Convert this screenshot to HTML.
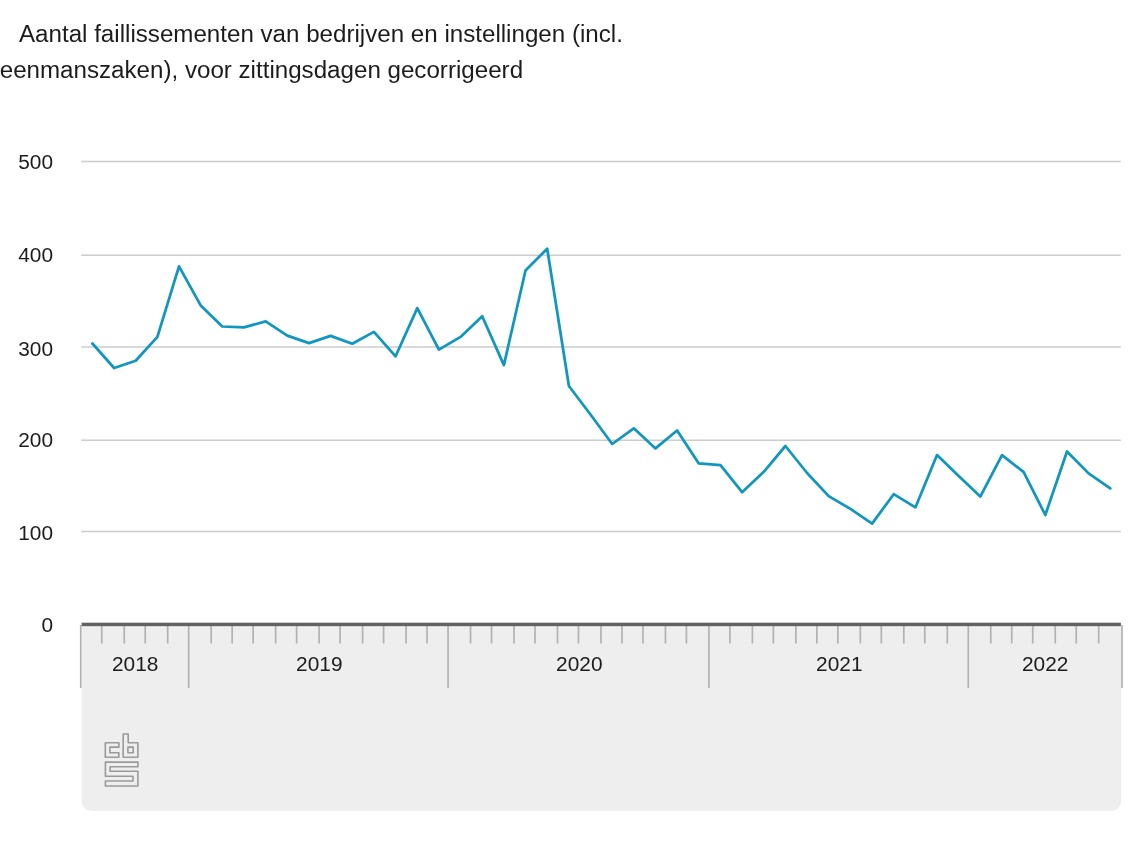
<!DOCTYPE html>
<html lang="nl">
<head>
<meta charset="utf-8">
<title>Aantal faillissementen</title>
<style>
html,body{margin:0;padding:0;background:#ffffff;}
body{width:1140px;height:857px;position:relative;overflow:hidden;font-family:"Liberation Sans",Arial,sans-serif;color:#1c1c1c;}
.t{position:absolute;white-space:nowrap;font-size:24.15px;line-height:36px;}
</style>
</head>
<body>
<div class="t" style="left:19px;top:16px;">Aantal faillissementen van bedrijven en instellingen (incl.</div>
<div class="t" style="left:-0.3px;top:51.5px;">eenmanszaken), voor zittingsdagen gecorrigeerd</div>
<svg width="1140" height="857" viewBox="0 0 1140 857" style="position:absolute;left:0;top:0">
<path d="M81.6 624.5H1121.2V801.1a10 10 0 0 1 -10 10H91.6a10 10 0 0 1 -10 -10Z" fill="#eeeeee"/>
<path d="M81.3 161.4H1120.8" stroke="#cccccc" stroke-width="1.5" fill="none"/>
<path d="M81.3 255.2H1120.8" stroke="#cccccc" stroke-width="1.5" fill="none"/>
<path d="M81.3 346.9H1120.8" stroke="#cccccc" stroke-width="1.5" fill="none"/>
<path d="M81.3 440.2H1120.8" stroke="#cccccc" stroke-width="1.5" fill="none"/>
<path d="M81.3 531.5H1120.8" stroke="#cccccc" stroke-width="1.5" fill="none"/>
<path d="M80.75 625V688M101.74 625V643.4M124.23 625V643.4M145.22 625V643.4M167.7 625V643.4M188.69 625V688M211.18 625V643.4M232.17 625V643.4M253.16 625V643.4M275.65 625V643.4M296.63 625V643.4M319.12 625V643.4M340.11 625V643.4M362.6 625V643.4M383.59 625V643.4M406.08 625V643.4M427.07 625V643.4M448.05 625V688M470.54 625V643.4M491.53 625V643.4M514.02 625V643.4M535.01 625V643.4M557.5 625V643.4M578.48 625V643.4M600.97 625V643.4M621.96 625V643.4M642.95 625V643.4M665.44 625V643.4M686.43 625V643.4M708.91 625V688M729.9 625V643.4M752.39 625V643.4M773.38 625V643.4M795.87 625V643.4M816.86 625V643.4M837.85 625V643.4M860.33 625V643.4M881.32 625V643.4M903.81 625V643.4M924.8 625V643.4M947.29 625V643.4M968.28 625V688M990.76 625V643.4M1011.75 625V643.4M1032.74 625V643.4M1055.23 625V643.4M1076.22 625V643.4M1098.71 625V643.4M1122.0 625V688" stroke="#b2b2b2" stroke-width="1.7" fill="none"/>
<rect x="81.6" y="622.7" width="1039.3" height="3.45" fill="#626262"/>
<path d="M92.4 343.5 L114.1 368.0 L135.7 360.7 L157.4 336.9 L179.0 266.4 L200.7 305.4 L222.3 326.5 L244.0 327.3 L265.7 321.4 L287.3 335.6 L309.0 343.1 L330.6 335.9 L352.3 343.7 L373.9 331.9 L395.6 356.3 L417.3 308.1 L438.9 349.6 L460.6 336.9 L482.2 316.2 L503.9 365.1 L525.5 270.5 L547.2 248.7 L568.9 386.0 L590.5 414.5 L612.2 444.0 L633.8 428.3 L655.5 448.4 L677.1 430.5 L698.8 463.4 L720.5 465.1 L742.1 492.2 L763.8 471.8 L785.4 446.0 L807.1 473.0 L828.7 496.1 L850.4 508.9 L872.1 523.6 L893.7 494.2 L915.4 507.4 L937.0 455.1 L958.7 476.0 L980.3 496.6 L1002.0 455.2 L1023.7 472.1 L1045.3 515.0 L1067.0 451.5 L1088.6 473.4 L1110.3 488.4" stroke="#1096bf" stroke-width="2.75" fill="none" stroke-linejoin="round" stroke-linecap="round"/>
<g font-family="Liberation Sans, Arial, sans-serif" font-size="20.85" fill="#1c1c1c">
<text x="53" y="168.9" text-anchor="end">500</text>
<text x="53" y="262.2" text-anchor="end">400</text>
<text x="53" y="355.6" text-anchor="end">300</text>
<text x="53" y="447.1" text-anchor="end">200</text>
<text x="53" y="540.4" text-anchor="end">100</text>
<text x="53" y="631.8" text-anchor="end">0</text>
<text x="135.2" y="670.8" text-anchor="middle">2018</text>
<text x="319.3" y="670.8" text-anchor="middle">2019</text>
<text x="579.3" y="670.8" text-anchor="middle">2020</text>
<text x="839.3" y="670.8" text-anchor="middle">2021</text>
<text x="1045.2" y="670.8" text-anchor="middle">2022</text>
</g>
<g fill="none" stroke="#9a9a9a" stroke-width="1.6" stroke-linejoin="round">
<path d="M105.3 742.8H118.9V747.15H109.9V752.75H118.9V757.3H105.3Z"/>
<path d="M123.15 734H128.2V742.8H137.9V757.3H123.15Z"/>
<path d="M127.9 747.15H133.2V752.75H127.9Z"/>
<path d="M105.4 762.1H137.9V766.8H110.1V771.25H137.9V786H105.4V780.95H133V776.3H105.4Z"/>
</g>
</svg>
</body>
</html>
